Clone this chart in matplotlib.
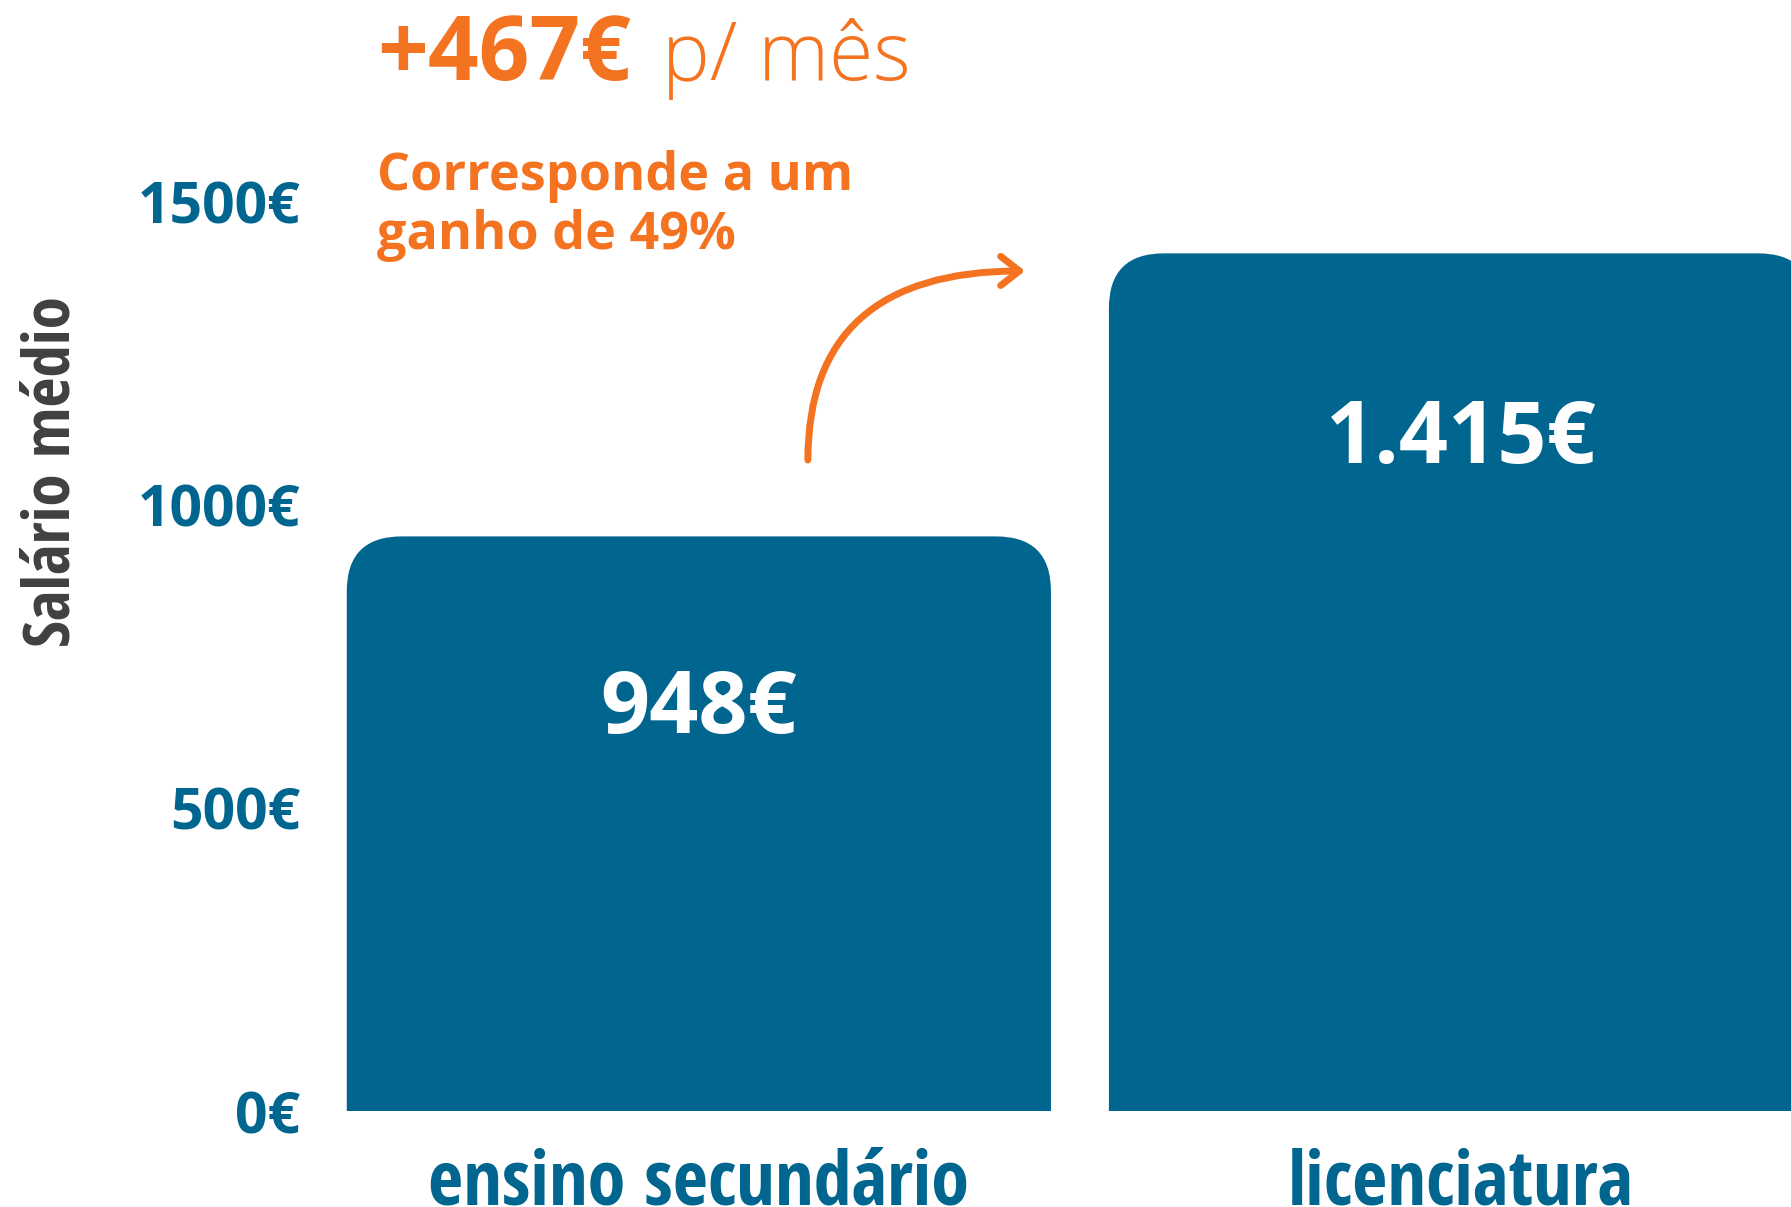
import matplotlib
matplotlib.use('Agg')
import matplotlib.pyplot as plt
from matplotlib.patches import FancyBboxPatch

# dados
niveis = ['ensino secundário', 'licenciatura']
salarios = [948, 1415]
rotulos_valor = ['948€', '1.415€']
ticks_y = [0, 500, 1000, 1500]
rotulos_y = [f'{t}€' for t in ticks_y]

diferenca = salarios[1] - salarios[0]
ganho = round((salarios[1] / salarios[0] - 1) * 100)

AZUL = '#00668f'
LARANJA = '#f47321'
CINZA = '#404040'
CONDENSADA = ['Open Sans Condensed', 'Roboto Condensed']

W, H = 1791, 1207
fig = plt.figure(figsize=(W / 100, H / 100), dpi=100)

# eixo: base das barras a 1111 px do topo
esq, base = 330, 96
ax = fig.add_axes([esq / W, base / H, 1 - esq / W, (H - base) / H])
x_pos = [0, 1]
largura = 0.924
xlim = (-0.484, 1.433)
ylim = (0, 1833)
ax.set_xlim(*xlim)
ax.set_ylim(*ylim)

# barras com cantos superiores arredondados
px_x = (W - esq) / (xlim[1] - xlim[0])
px_y = (H - base) / (ylim[1] - ylim[0])
raio = 55
rx, ry = raio / px_x, raio / px_y
for xi, v in zip(x_pos, salarios):
    ax.add_patch(FancyBboxPatch(
        (xi - largura / 2, -2 * ry), largura, v + 2 * ry,
        boxstyle=f'round,pad=0,rounding_size={rx}',
        mutation_aspect=ry / rx, fc=AZUL, ec='none'))

# rótulos de valor dentro das barras
for xi, v, r in zip(x_pos, salarios, rotulos_valor):
    ax.text(xi, 0.955 * v - 245, r, ha='center', va='center', color='white',
            fontsize=62, fontweight='bold', family='Open Sans')

# eixos
ax.set_yticks(ticks_y, rotulos_y, fontsize=41, fontweight='bold',
              family='Open Sans', color=AZUL)
ax.set_xticks(x_pos, niveis, fontsize=55, fontweight='bold',
              family=CONDENSADA, color=AZUL, va='baseline')
ax.tick_params(axis='y', length=0, pad=21.6)
ax.tick_params(axis='x', length=0, pad=67)
for s in ax.spines.values():
    s.set_visible(False)

# seta
ax.annotate('', xy=(0.428, 1386), xytext=(0.143, 1074),
            arrowprops=dict(arrowstyle='->,head_length=1.35,head_width=1.05',
                            connectionstyle='angle3,angleA=90,angleB=0',
                            color=LARANJA, lw=5, capstyle='round',
                            joinstyle='round', mutation_scale=10,
                            shrinkA=0, shrinkB=0))

# textos
fig.text(377 / W, 1 - 80 / H, f'+{diferenca}€', color=LARANJA, fontsize=64,
         fontweight='bold', family='Open Sans', va='baseline')
fig.text(662 / W, 1 - 80 / H, 'p/ mês', color=LARANJA, fontsize=58,
         fontweight='light', family='Open Sans', va='baseline')
fig.text(377 / W, 1 - 190 / H, 'Corresponde a um', color=LARANJA, fontsize=37.5,
         fontweight='bold', family='Open Sans', va='baseline')
fig.text(377 / W, 1 - 249 / H, f'ganho de {ganho}%', color=LARANJA, fontsize=37.5,
         fontweight='bold', family='Open Sans', va='baseline')
fig.text(53 / W, 1 - 472 / H, 'Salário médio', rotation=90, ha='center',
         va='center', fontsize=47, fontweight='bold', family=CONDENSADA,
         color=CINZA)

fig.savefig('out.png', dpi=100)
